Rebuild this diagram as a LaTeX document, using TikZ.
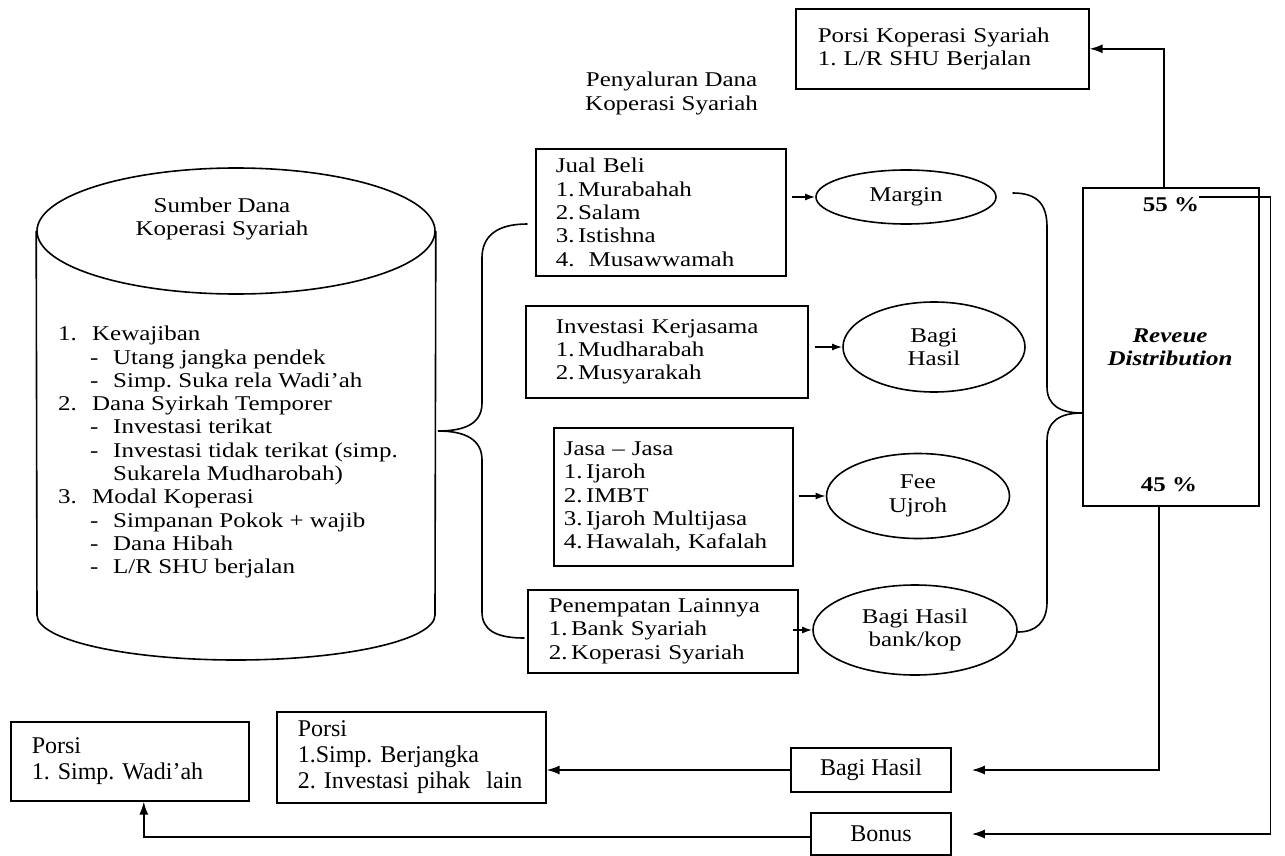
\documentclass[tikz,border=0pt]{standalone}
\usepackage{fontspec}
\setmainfont{Liberation Serif}[FakeStretch=1.19]
\newfontfamily\btm{Liberation Serif}[FakeStretch=1.0]
\usetikzlibrary{arrows.meta,shapes.geometric,calc}
\frenchspacing
\begin{document}
\begin{tikzpicture}[x=1pt,y=-1pt,
  every node/.style={font=\fontsize{21}{23.3}\selectfont, inner sep=0pt},
  lw/.style={line width=1.6pt},
  boxl/.style={draw,lw,align=left,anchor=north west},
  oval/.style={draw,lw,ellipse,align=center},
  arr/.style={lw,-{Latex[length=13pt,width=9pt]}},
  sarr/.style={lw,-{Latex[length=10pt,width=7pt]}},
  bfont/.style={font=\btm\fontsize{24}{26}\selectfont},
  brace/.style={lw,line cap=round}
]
\useasboundingbox (0,0) rectangle (1285,856);

% cylinder
\node[draw,lw,ellipse,minimum width=398,minimum height=126] (cyltop) at (236,231) {};
\draw[lw] (cyltop.west) -- (37,615)
  .. controls (37,640) and (126,660) .. (236,660)
  .. controls (346,660) and (435,640) .. (435,615) -- (cyltop.east);
\node[align=center] (cyltitle) at (222,219) {Sumber Dana\\Koperasi Syariah};
\node[anchor=north west,align=left] (cyltext) at (58,326) {%
\makebox[34pt][l]{1.}Kewajiban\\
\hspace*{32pt}\makebox[23pt][l]{-}Utang jangka pendek\\
\hspace*{32pt}\makebox[23pt][l]{-}Simp. Suka rela Wadi’ah\\
\makebox[34pt][l]{2.}Dana Syirkah Temporer\\
\hspace*{32pt}\makebox[23pt][l]{-}Investasi terikat\\
\hspace*{32pt}\makebox[23pt][l]{-}Investasi tidak terikat (simp.\\
\hspace*{55pt}Sukarela Mudharobah)\\
\makebox[34pt][l]{3.}Modal Koperasi\\
\hspace*{32pt}\makebox[23pt][l]{-}Simpanan Pokok + wajib\\
\hspace*{32pt}\makebox[23pt][l]{-}Dana Hibah\\
\hspace*{32pt}\makebox[23pt][l]{-}L/R SHU berjalan};

% left brace
\coordinate (lbt) at (438,431);
\draw[brace] (527,224) .. controls (497,224) and (482,236) .. (482,258)
  -- (482,403) .. controls (482,423) and (466,431) .. (lbt)
  .. controls (466,431) and (482,440) .. (482,460)
  -- (482,612) .. controls (482,630) and (496,638) .. (524,638);

% heading
\node[align=center,anchor=north west] (peny) at (585,72) {Penyaluran Dana\\Koperasi Syariah};

% financing boxes
\node[boxl,minimum width=250,minimum height=127,inner xsep=20pt,text width=210] (jb) at (535,148)
  {Jual Beli\\1.\,Murabahah\\2.\,Salam\\3.\,Istishna\\4.~~Musawwamah};
\node[boxl,minimum width=282,minimum height=92,inner xsep=30pt,text width=222] (ik) at (525,305)
  {Investasi Kerjasama\\1.\,Mudharabah\\2.\,Musyarakah};
\node[boxl,minimum width=239,minimum height=138,inner xsep=10pt,text width=219] (js) at (553,427)
  {Jasa – Jasa\\1.\,Ijaroh\\2.\,IMBT\\3.\,Ijaroh Multijasa\\4.\,Hawalah, Kafalah};
\node[boxl,minimum width=270,minimum height=83,inner xsep=21pt,text width=228] (pl) at (527,589)
  {Penempatan Lainnya\\1.\,Bank Syariah\\2.\,Koperasi Syariah};

% ellipses
\node[oval,minimum width=180,minimum height=54] (mg) at (906,197) {Margin};
\node[oval,minimum width=182,minimum height=90] (bh) at (934,347) {Bagi\\Hasil};
\node[oval,minimum width=183,minimum height=85] (fee) at (918,496) {Fee\\Ujroh};
\node[oval,minimum width=204,minimum height=90] (bhk) at (915,630) {Bagi Hasil\\bank/kop};

\draw[sarr,shorten <=5pt] (jb.east |- mg.west) -- (mg.west);
\draw[sarr,shorten <=6pt] (ik.east |- bh.west) -- (bh.west);
\draw[sarr,shorten <=5pt] (js.east |- fee.west) -- (fee.west);
\draw[sarr,shorten <=-6pt] (pl.east |- bhk.west) -- (bhk.west);

% right brace
\draw[brace] (1013,193) .. controls (1038,193) and (1047,205) .. (1047,227)
  -- (1047,387) .. controls (1047,405) and (1060,413) .. (1082,413)
  .. controls (1060,413) and (1047,421) .. (1047,441)
  -- (1047,602) .. controls (1047,622) and (1036,632) .. (1018,632);

% revenue distribution
\node[draw,lw,anchor=north west,minimum width=176,minimum height=318] (rd) at (1082,187) {};
\node[font=\fontsize{21}{23.3}\selectfont\bfseries] (p55) at (1171,205) {55 \%};
\node[font=\fontsize{21}{23.3}\selectfont\bfseries\itshape,align=center] (rdt) at (1170,347) {Reveue\\Distribution};
\node[font=\fontsize{21}{23.3}\selectfont\bfseries] (p45) at (1169,485) {45 \%};

% top box
\node[boxl,minimum width=293,minimum height=80,inner xsep=22pt,text width=249] (top) at (795,8)
  {Porsi Koperasi Syariah\\1. L/R SHU Berjalan};
\draw[arr] ([xshift=-7pt]rd.north) |- (top.east);

% bottom boxes
\node[boxl,bfont,minimum width=238,minimum height=79,inner xsep=21pt,text width=196] (b1) at (10,721)
  {Porsi\\1. Simp. Wadi’ah};
\node[boxl,bfont,minimum width=269,minimum height=91,inner xsep=12pt,text width=245] (b2) at (276,711)
  {\hspace*{9pt}Porsi\\\hspace*{9pt}1.Simp. Berjangka\\\hspace*{9pt}2. Investasi pihak\ \ lain};
\node[draw,lw,bfont,minimum width=160,minimum height=44] (bhb) at (871,770) {Bagi Hasil};
\node[draw,lw,bfont,minimum width=140,minimum height=42] (bon) at (881,834) {Bonus};

\draw[arr,shorten >=20pt] ([xshift=-12pt]rd.south) |- (bhb.east);
\draw[arr,shorten >=20pt] ([yshift=8pt]p55.east) -- ++(71,0) |- (bon.east);
\draw[arr] (bhb.west) -- (bhb.west -| b2.east);
\draw[arr] ([yshift=-3pt]bon.west) -| ([xshift=14pt]b1.south);
\end{tikzpicture}
\end{document}
